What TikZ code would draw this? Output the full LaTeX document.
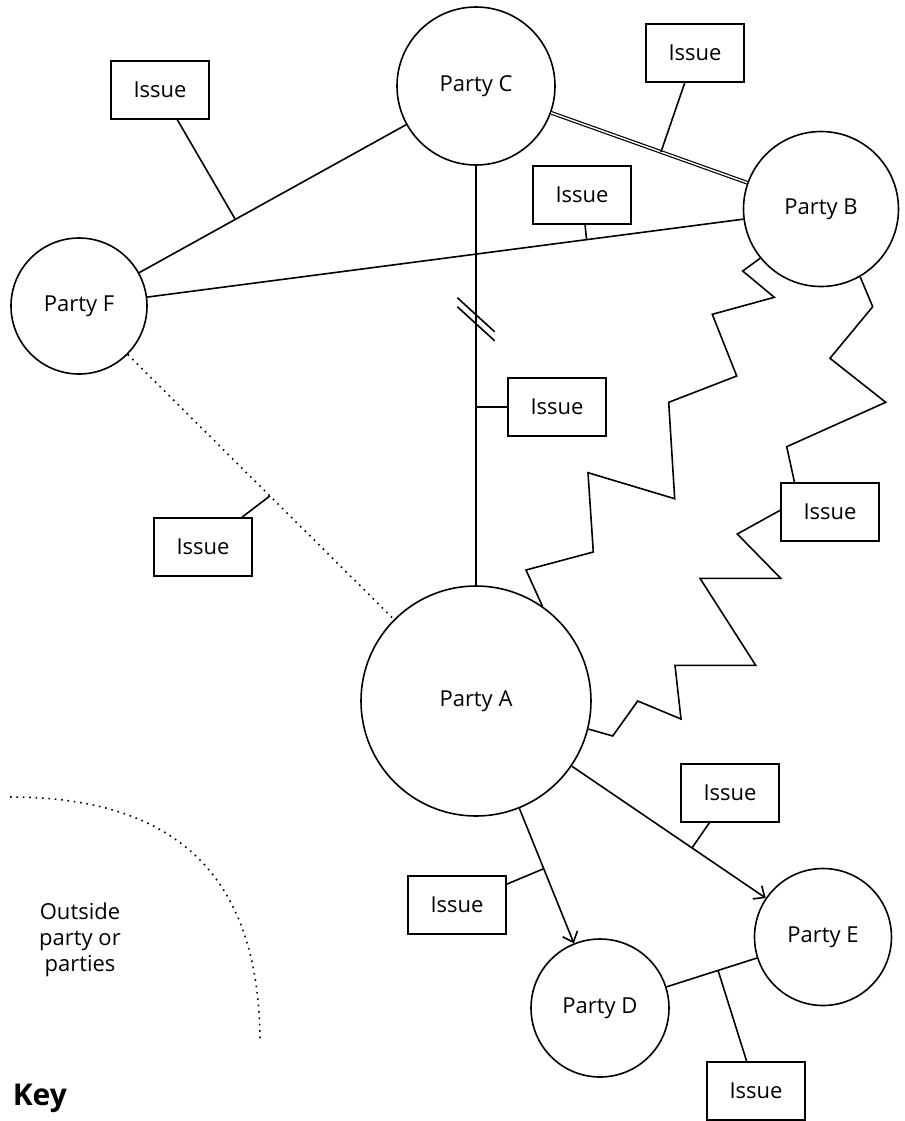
\documentclass[tikz,border=0pt]{standalone}
\usepackage{fontspec}
\setmainfont{Open Sans}
\usetikzlibrary{arrows.meta}
\tikzset{every path/.style={black, line width=0.8pt},
  party/.style={draw, circle, inner sep=0pt, font=\fontsize{11}{13}\selectfont},
  issue/.style={draw, rectangle, minimum width=49pt, minimum height=29pt, inner sep=0pt, font=\fontsize{11}{13}\selectfont},
  tie/.style={double, line width=0.6pt, double distance=0.7pt},
  loose/.style={dash pattern=on 0.8pt off 2.4pt},
  lead/.style={-{Straight Barb[length=4.5pt,width=8pt]}}}

\begin{document}
\begin{tikzpicture}[x=0.5pt, y=-0.5pt]
  \useasboundingbox (0,0) rectangle (905,1121);
  % parties
  \node[party, minimum size=79pt] (C) at (476,86) {Party C};
  \node[party, minimum size=77.5pt] (B) at (821,209) {Party B};
  \node[party, minimum size=68pt] (F) at (79,306) {Party F};
  \node[party, minimum size=115pt] (A) at (476,701) {Party A};
  \node[party, minimum size=69pt] (D) at (600,1008) {Party D};
  \node[party, minimum size=68.5pt] (E) at (823,937) {Party E};
  % issues
  \node[issue] (i1) at (160,90) {Issue};
  \node[issue] (i2) at (695,53) {Issue};
  \node[issue] (i3) at (582,195) {Issue};
  \node[issue] (i4) at (557,407) {Issue};
  \node[issue] (i5) at (830,512) {Issue};
  \node[issue] (i6) at (203,547) {Issue};
  \node[issue] (i7) at (730,793) {Issue};
  \node[issue] (i8) at (457,905) {Issue};
  \node[issue] (i9) at (756,1091) {Issue};
  % links
  \draw (F) -- (C) coordinate[pos=0.36] (fc);
  \draw (F) -- (B) coordinate[pos=0.737] (fb);
  \draw[tie] (C) -- (B) coordinate[pos=0.56] (cb);
  \draw (C) -- (A) coordinate[pos=0.575] (ca) coordinate[pos=0.366] (brk);
  \draw ([shift={(-18.6,-21.5)}]brk) -- ++(37.3,34);
  \draw ([shift={(-18.6,-12.5)}]brk) -- ++(37.3,34);
  \draw[loose] (F) -- (A) coordinate[pos=0.534] (fa);
  \draw[lead] (A) -- (E) coordinate[pos=0.62] (ae);
  \draw[lead] (A) -- (D) coordinate[pos=0.447] (ad);
  \draw (D) -- (E) coordinate[pos=0.57] (de);
  % conflict lines
  \draw (B.219) -- (742.7,271) -- (774.3,297.3) -- (712.3,314.3) -- (736.7,376)
    -- (668.7,402.3) -- (674.7,498.7) -- (588,472.7) -- (593.3,552) -- (526,570) -- (A.55);
  \draw (B.300) -- (872.7,306.7) -- (830,358.3) -- (885.7,402.3) -- (786.7,446.7) -- (i5.140);
  \draw (i5.178) -- (737.3,534) -- (780.7,578.3) -- (700,578.3) -- (755.7,665.3)
    -- (675,665.3) -- (681,719) -- (637.7,701) -- (612.7,736) -- (A.346);
  % issue leaders
  \draw (i1) -- (fc);
  \draw (i3) -- (fb);
  \draw (i2) -- (cb);
  \draw (ca) -- (i4);
  \draw (i6) -- (fa);
  \draw (i7) -- (ae);
  \draw (i8) -- (ad);
  \draw (i9) -- (de);
  % key
  \draw[loose] (10,797) .. controls (170,797) and (260,870) .. (260,1043);
  \node[align=center, font=\fontsize{11}{13}\selectfont] (out) at (80,940) {Outside\\party or\\parties};
  \node[anchor=base west, inner sep=0pt, font=\fontsize{15}{18}\selectfont\bfseries] (key) at (12,1105) {Key};
\end{tikzpicture}
\end{document}
